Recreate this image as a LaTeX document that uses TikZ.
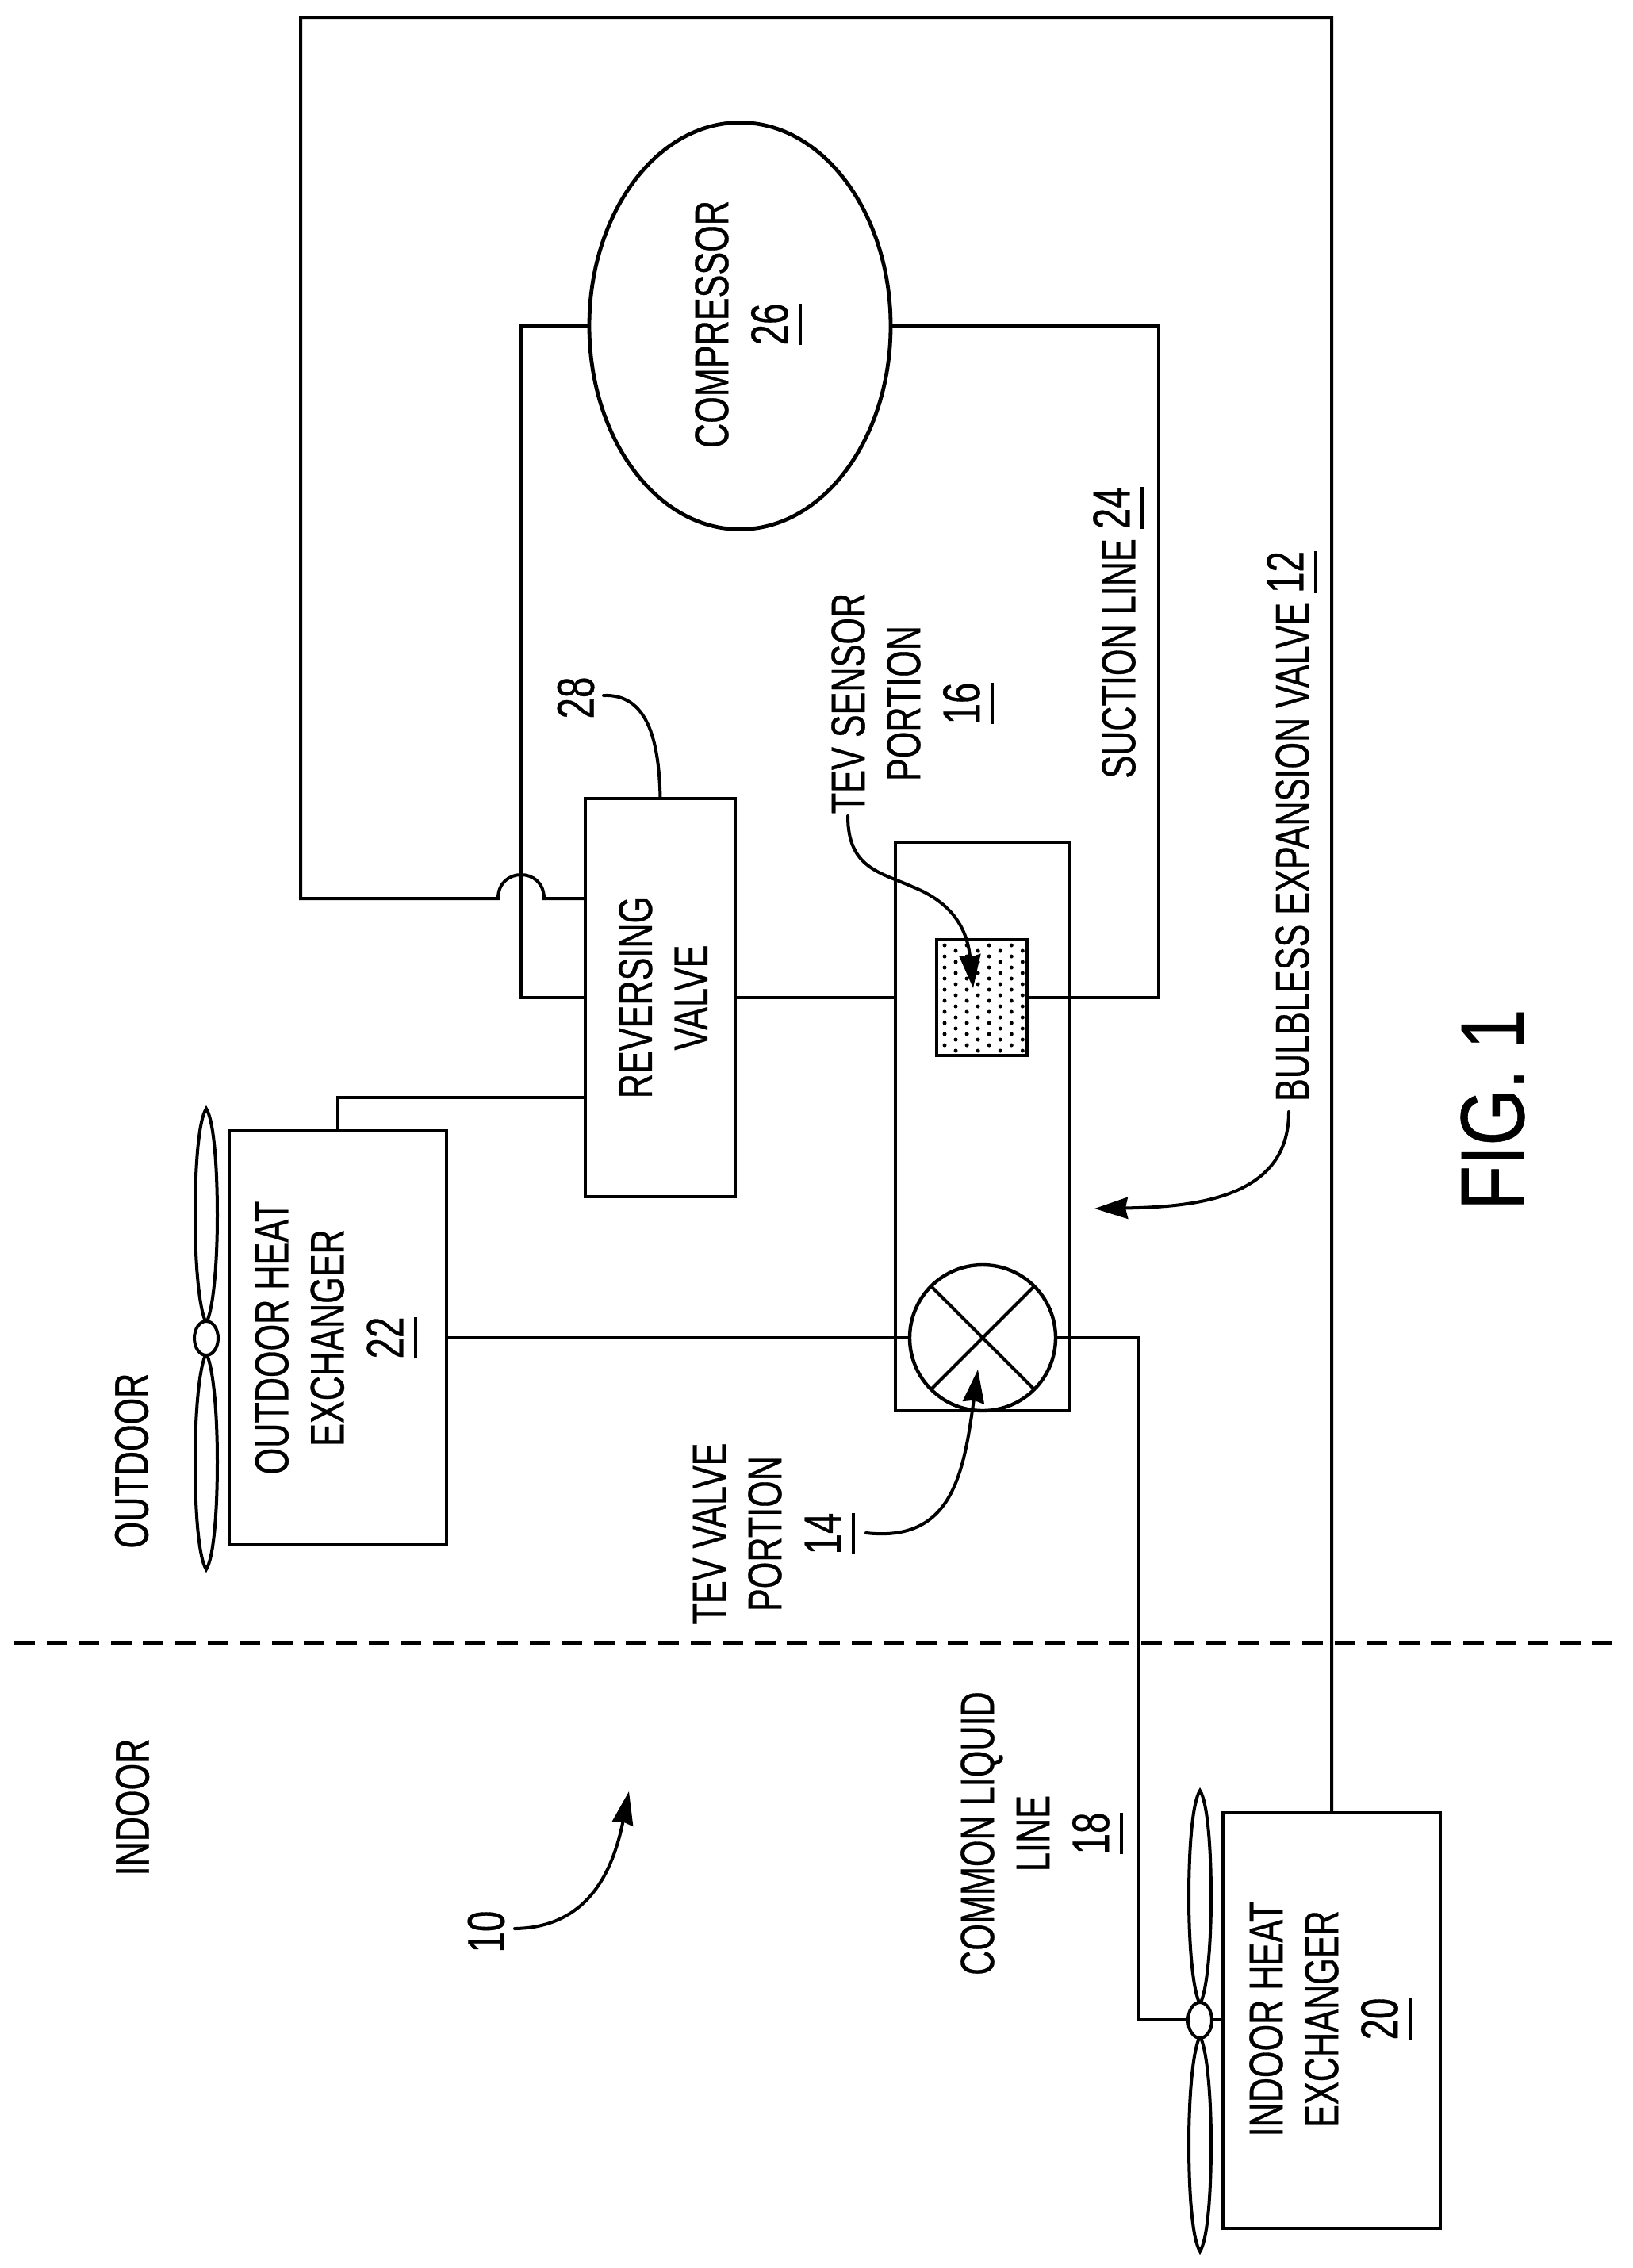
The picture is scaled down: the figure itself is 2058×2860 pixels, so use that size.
\documentclass[tikz,border=0pt]{standalone}
\usepackage{fontspec}
\setmainfont{Liberation Sans}[FakeStretch=0.72,FakeBold=0.5]
\newfontfamily\figfont{Liberation Sans}[FakeStretch=0.8,FakeBold=0.5]
\usetikzlibrary{shapes.geometric,arrows.meta}
\newlength\ulwd
\newcommand\ulnum[1]{{\fontsize{33}{35}\selectfont\settowidth\ulwd{#1}\rlap{\smash{\rule[-9pt]{\ulwd}{2pt}}}#1}}
\newcommand\lnum[1]{{\fontsize{33}{35}\selectfont #1}}
\newcommand\fanblade[3]{\draw[line width=2pt,fill=white] (#1,#2) .. controls ({#1-9},{#2+0.05*(#3-#2)}) and ({#1-14},{#2+0.25*(#3-#2)}) .. ({#1-14},{#2+0.5*(#3-#2)}) .. controls ({#1-14},{#2+0.75*(#3-#2)}) and ({#1-8},{#2+0.95*(#3-#2)}) .. (#1,#3) .. controls ({#1+8},{#2+0.95*(#3-#2)}) and ({#1+14},{#2+0.75*(#3-#2)}) .. ({#1+14},{#2+0.5*(#3-#2)}) .. controls ({#1+14},{#2+0.25*(#3-#2)}) and ({#1+9},{#2+0.05*(#3-#2)}) .. cycle;}
\tikzset{
  pipe/.style={line width=2pt,line join=miter},
  boxn/.style={draw,line width=2pt,rectangle,inner sep=0pt,outer sep=0pt,fill=white},
  bladen/.style={draw,line width=2pt,ellipse,inner sep=0pt,outer sep=0pt,fill=white},
  lbl/.style={rotate=90,align=center,inner sep=0pt,outer sep=0pt,font=\fontsize{30}{35}\selectfont},
  leader/.style={line width=2pt,line cap=round},
  pointer/.style={line width=2pt,line cap=round,-{Stealth[length=21pt,width=13.5pt,inset=1.5pt]}}
}
\begin{document}
\begin{tikzpicture}[x=0.5pt,y=-0.5pt]
\useasboundingbox (0,0) rectangle (2058,2860);
% junction points
\coordinate (tl) at (379,22);
\coordinate (jl) at (379,1133);
\coordinate (ja) at (628,1133);
\coordinate (jb) at (686,1133);
\coordinate (jr) at (738,1133);
\coordinate (cl) at (657,411);
\coordinate (sr) at (1461,1258);
\coordinate (rvo) at (738,1384);
\coordinate (lq) at (1435,2547);
\coordinate (dl) at (18,2071);
\coordinate (dr) at (2043,2071);
% boxes
\node[boxn,minimum width=189pt/2,minimum height=502pt/2] (rv) at (832.5,1258) {};
\node[boxn,minimum width=219pt/2,minimum height=717pt/2] (tev) at (1238.5,1420.5) {};
\node[boxn,minimum width=274pt/2,minimum height=522pt/2] (ohe) at (426,1687) {};
\node[boxn,minimum width=274pt/2,minimum height=524pt/2] (ihe) at (1679,2548) {};
\node[bladen,line width=2.4pt,minimum width=380pt/2,minimum height=513pt/2] (comp) at (933,411) {};
% pipes
\draw[pipe] (ihe.north) |- (tl) -- (jl) -- (ja) .. controls (628,1093) and (686,1093) .. (jb) -- (jr);
\draw[pipe] (comp.west) -- (cl) |- (rv.west);
\draw[pipe] (comp.east) -| (sr) -- (1296,1258);
\draw[pipe] (rv.east) -- (tev.west |- rv.east);
\draw[pipe] (ohe.north) |- (rvo);
\draw[pipe] (ohe.east) -- (1146,1687);
\draw[pipe] (1332,1687) -| (lq) -- (ihe.west |- lq);
% sensor
\node[boxn,minimum width=114pt/2,minimum height=146pt/2] (sensor) at (1238,1258) {};
\foreach \i in {0,1,2,3} {
  \foreach \j in {0,...,9} {
    \fill ({1191+28.1*\i},{1192+14*\j}) circle[radius=1.25pt];
    \fill ({1205+28.1*\i},{1199+14*\j}) circle[radius=1.25pt];
  }
}
% valve
\node[draw,line width=2.2pt,circle,minimum size=92pt,inner sep=0pt,outer sep=0pt,fill=white] (valve) at (1239,1687) {};
\draw[pipe] (valve.45) -- (valve.225);
\draw[pipe] (valve.135) -- (valve.315);
% fans
\fanblade{260}{1398}{1668}
\fanblade{260}{1979}{1707}
\node[bladen,minimum width=30pt/2,minimum height=43pt/2] (ofanH) at (260,1687.5) {};
\fanblade{1513}{2258}{2527}
\fanblade{1513}{2839}{2568}
\node[bladen,minimum width=30pt/2,minimum height=45pt/2] (ifanH) at (1513,2547.5) {};
% dashed divider
\draw[line width=2.5pt,dash pattern=on 13pt off 7.3pt] (dl) -- (dr);
% labels
\node[lbl] (tcomp) at (935,409) {COMPRESSOR\\[2.5pt]\ulnum{26}};
\node[lbl] (trv) at (836,1258) {REVERSING\\VALVE};
\node[lbl] (tohe) at (415,1687) {OUTDOOR HEAT\\EXCHANGER\\[2.5pt]\ulnum{22}};
\node[lbl] (tihe) at (1669,2546) {INDOOR HEAT\\EXCHANGER\\[2.5pt]\ulnum{20}};
\node[lbl] (tsens) at (1142,887) {TEV SENSOR\\PORTION\\[2.5pt]\ulnum{16}};
\node[lbl] (tval) at (967,1934) {TEV VALVE\\PORTION\\[2.5pt]\ulnum{14}};
\node[lbl] (tliq) at (1305,2312) {COMMON LIQUID\\LINE\\[2.5pt]\ulnum{18}};
\node[lbl] (tsuc) at (1405,798) {SUCTION LINE \raisebox{3.5pt}{\ulnum{24}}};
\node[lbl] (tbul) at (1624,1042) {BULBLESS EXPANSION VALVE \raisebox{3.5pt}{\ulnum{12}}};
\node[lbl] (tout) at (166,1842) {OUTDOOR};
\node[lbl] (tin) at (167,2279) {INDOOR};
\node[lbl] (t28) at (726,880) {\lnum{28}};
\node[lbl] (t10) at (613,2436) {\lnum{10}};
\node[rotate=90,inner sep=0pt,outer sep=0pt,font=\figfont\fontsize{57}{60}\selectfont] (tfig) at (1882,1399) {FIG. 1};
% leaders
\coordinate (a28) at (761,877);
\draw[leader] (a28) .. controls (815,875) and (831,930) .. (rv.north);
\coordinate (a16) at (1069,1029);
\coordinate (p16) at (1150,1118);
\coordinate (h16) at (1227,1246);
\draw[pointer] (a16) .. controls (1069,1095) and (1110,1100) .. (p16) .. controls (1195,1136) and (1219,1165) .. (h16);
\coordinate (a14) at (1092,1933);
\coordinate (h14) at (1233,1727);
\draw[pointer] (a14) .. controls (1200,1945) and (1215,1860) .. (h14);
\coordinate (a12) at (1625,1402);
\coordinate (h12) at (1380,1524);
\draw[pointer] (a12) .. controls (1625,1510) and (1510,1522) .. (h12);
\coordinate (a10) at (649,2432);
\coordinate (h10) at (793,2259);
\draw[pointer] (a10) .. controls (710,2431) and (765,2400) .. (h10);
\end{tikzpicture}
\end{document}
